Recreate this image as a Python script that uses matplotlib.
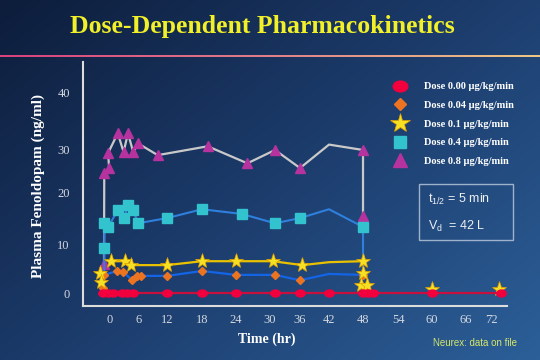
import numpy as np
import matplotlib
matplotlib.use('Agg')
import matplotlib.pyplot as plt
from matplotlib.colors import LinearSegmentedColormap
from matplotlib.lines import Line2D
from matplotlib.patches import Rectangle
from matplotlib.path import Path
from matplotlib.transforms import Affine2D

plt.rcParams['font.family'] = ['Liberation Serif', 'DejaVu Serif']
plt.rcParams['mathtext.fontset'] = 'custom'
plt.rcParams['mathtext.rm'] = 'Liberation Sans'
plt.rcParams['mathtext.it'] = 'Liberation Sans:italic'

# --- data (time in hr, concentration in ng/ml) ---
# dose 0.00
circ_t = [-1.5, -0.5, 0.6, 2.5, 3.5, 4.7, 12, 18, 24, 31, 36, 42, 48, 48.9, 49.7, 60, 74]
circ_v = [0, 0, 0, 0, 0, 0, 0, 0, 0, 0, 0, 0, 0, 0, 0, 0, 0]

# dose 0.04
diam_t = [-1.2, 1.5, 2.7, 4.6, 5.6, 6.5, 12, 18, 24, 31, 36, 42, 48]
diam_v = [3.7, 4.5, 4.3, 2.6, 3.5, 3.5, 3.5, 4.5, 3.7, 3.7, 2.6, 3.9, 3.7]
diam_hidden = [11]
diam_extra_t = [-1.4, 48.4]
diam_extra_v = [1.0, 1.0]

# dose 0.1
star_t = [0.2, 3.1, 4.3, 12, 18, 24, 30.5, 36.5, 42, 48]
star_v = [6.5, 6.5, 5.7, 5.7, 6.5, 6.5, 6.5, 5.7, 6.3, 6.5]
star_hidden = [8]
star_extra_t = [-2.0, -1.8, 47.6, 48.0, 48.7, 60, 73.5]
star_extra_v = [4.1, 2.2, 1.6, 4.1, 1.6, 0.8, 0.8]

# dose 0.4
sq_t = [-1.2, -1.2, -1.2, -0.4, 1.6, 2.9, 3.7, 4.8, 5.8, 12, 18, 25, 31, 36, 42, 48, 48]
sq_v = [3.7, 9.2, 14.0, 13.3, 16.5, 15.0, 17.5, 16.5, 14.0, 15.0, 16.7, 15.8, 14.0, 15.0, 16.7, 13.3, 3.7]
sq_hidden = [0, 14, 16]

# dose 0.8
tri_t = [-1.25, -1.2, -0.2, -0.4, 1.6, 2.8, 3.7, 4.8, 5.8, 10, 19, 26, 31, 36, 42, 48, 48]
tri_v = [5.9, 24.4, 25.6, 29.1, 32.8, 29.3, 32.8, 29.3, 31.0, 28.6, 30.5, 26.7, 29.8, 25.6, 30.8, 29.8, 15.4]
tri_hidden = [14]

labels = ['Dose 0.00 µg/kg/min', 'Dose 0.04 µg/kg/min', 'Dose 0.1 µg/kg/min',
          'Dose 0.4 µg/kg/min', 'Dose 0.8 µg/kg/min']
x_ticks = list(range(0, 73, 6))
y_ticks = [0, 10, 20, 30, 40]

# the slide's axes are not evenly spaced: tick value -> pixel position
x_knots = [-6, 0, 6, 12, 18, 24, 30, 36, 42, 48, 54, 60, 66, 72, 78]
x_pix = [81, 110, 139, 167, 202, 236, 270, 300, 329, 363, 398, 432, 466, 491, 521]
y_knots = [-5, 0, 10, 20, 30, 40, 50]
y_pix = [42.5, 67, 116, 168, 211, 268, 325]


def shown(n, hidden):
    return [i for i in range(n) if i not in hidden]


fig = plt.figure(figsize=(5.4, 3.6), dpi=100)

# background gradient
bg = fig.add_axes([0, 0, 1, 1], zorder=-10)
gx, gy = np.meshgrid(np.linspace(0, 1, 270), np.linspace(0, 1, 180))
grad = 0.55 * gx + 0.45 * gy
bg_cmap = LinearSegmentedColormap.from_list('bg', ['#0d1d3b', '#1c3c6c', '#2c5f98'])
bg.imshow(grad, cmap=bg_cmap, aspect='auto', extent=[0, 1, 0, 1])
bg.axis('off')

# title and divider
fig.text(262 / 540, 1 - 27 / 360, 'Dose-Dependent Pharmacokinetics', ha='center', va='center',
         fontsize=18.5, fontweight='bold', color='#f2f028')
bar = fig.add_axes([0, 1 - 57.5 / 360, 1, 3 / 360])
bar_cmap = LinearSegmentedColormap.from_list('bar', ['#d8417d', '#e0808a', '#eec884'])
bar.imshow(np.linspace(0, 1, 256)[None, :], cmap=bar_cmap, aspect='auto')
bar.axis('off')

ax = fig.add_axes([83 / 540, 54 / 360, (507 - 83) / 540, (298 - 54) / 360])
ax.set_facecolor('none')
ax.set_xscale('function', functions=(lambda v: np.interp(v, x_knots, x_pix),
                                     lambda p: np.interp(p, x_pix, x_knots)))
ax.set_yscale('function', functions=(lambda v: np.interp(v, y_knots, y_pix),
                                     lambda p: np.interp(p, y_pix, y_knots)))

ellipse = Path.unit_circle().transformed(Affine2D().scale(1.35, 1.0))

ax.plot(tri_t, tri_v, color='#c9c9c9', lw=1.6, marker='^', ms=7.5, mfc='#b5329f', mec='#b5329f',
        markevery=shown(len(tri_t), tri_hidden), zorder=3)
ax.plot(sq_t, sq_v, color='#2f80de', lw=1.5, marker='s', ms=6.5, mfc='#33c3cf', mec='#33c3cf',
        markevery=shown(len(sq_t), sq_hidden), zorder=3)
ax.plot(diam_t, diam_v, color='#1464e6', lw=1.6, marker='D', ms=4.5, mfc='#ec7420', mec='#ec7420',
        markevery=shown(len(diam_t), diam_hidden), zorder=4)
ax.plot(diam_extra_t, diam_extra_v, ls='none', marker='D', ms=4.5, mfc='#ec7420', mec='#ec7420', zorder=4)
ax.plot(star_t, star_v, color='#e8c200', lw=1.6, marker='*', ms=11, mfc='#f6e024', mec='#e0a000', mew=0.5,
        markevery=shown(len(star_t), star_hidden), zorder=5)
ax.plot(star_extra_t, star_extra_v, ls='none', marker='*', ms=11, mfc='#f6e024', mec='#e0a000', mew=0.5,
        zorder=5)
ax.plot(circ_t, circ_v, color='#c8103e', lw=1.6, marker=ellipse, ms=6.8, mfc='#f2003e', mec='#f2003e',
        zorder=6)

ax.set_xlim(-5.6, 75.2)
ax.set_ylim(-2.65, 45.3)
ax.set_xticks(x_ticks)
ax.set_yticks(y_ticks)
ax.xaxis.set_minor_locator(matplotlib.ticker.NullLocator())
ax.yaxis.set_minor_locator(matplotlib.ticker.NullLocator())
ax.tick_params(axis='both', length=0, labelsize=9, labelcolor='#d4d8e0')
ax.tick_params(axis='x', pad=6)
ax.tick_params(axis='y', pad=9.5)
for side in ['top', 'right']:
    ax.spines[side].set_visible(False)
for side in ['left', 'bottom']:
    ax.spines[side].set_color('#dcdcdc')
    ax.spines[side].set_linewidth(1.5)

fig.text(267 / 540, 1 - 339 / 360, 'Time (hr)', ha='center', va='center',
         fontsize=10, fontweight='bold', color='white')
fig.text(38 / 540, 1 - 186 / 360, 'Plasma Fenoldopam (ng/ml)', ha='center', va='center',
         rotation=90, fontsize=11, fontweight='bold', color='white')

# legend
handles = [
    Line2D([], [], ls='none', marker=ellipse, ms=10.5, mfc='#f2003e', mec='#f2003e'),
    Line2D([], [], ls='none', marker='D', ms=6.5, mfc='#ec7420', mec='#ec7420'),
    Line2D([], [], ls='none', marker='*', ms=15, mfc='#f6e024', mec='#e0a000', mew=0.5),
    Line2D([], [], ls='none', marker='s', ms=8, mfc='#33c3cf', mec='#33c3cf'),
    Line2D([], [], ls='none', marker='^', ms=10, mfc='#b5329f', mec='#b5329f'),
]
fig.legend(handles, labels, loc='upper left', bbox_to_anchor=(391.7 / 540, 1 - 82 / 360),
           frameon=False, borderpad=0, borderaxespad=0, handlelength=1.6, handletextpad=1.5,
           labelspacing=0.9, labelcolor='white', prop={'size': 7.5, 'weight': 'bold'})

# parameter box
fig.add_artist(Rectangle((419 / 540, 1 - 240 / 360), 94 / 540, 56 / 360, transform=fig.transFigure,
                         fill=False, ec='#9fb2cc', lw=1))
fig.text(428 / 540, 1 - 199 / 360, r'$\mathrm{t_{1/2}}$ = 5 min', ha='left', va='center',
         fontsize=9, color='#eef0f4', family='Liberation Sans')
fig.text(428 / 540, 1 - 226 / 360, r'$\mathrm{V_{d}}$  = 42 L', ha='left', va='center',
         fontsize=9, color='#eef0f4', family='Liberation Sans')

fig.text(517 / 540, 1 - 343 / 360, 'Neurex: data on file', ha='right', va='center',
         fontsize=7, color='#d4e66a', family='Liberation Sans')

fig.savefig('out.png', dpi=100)
